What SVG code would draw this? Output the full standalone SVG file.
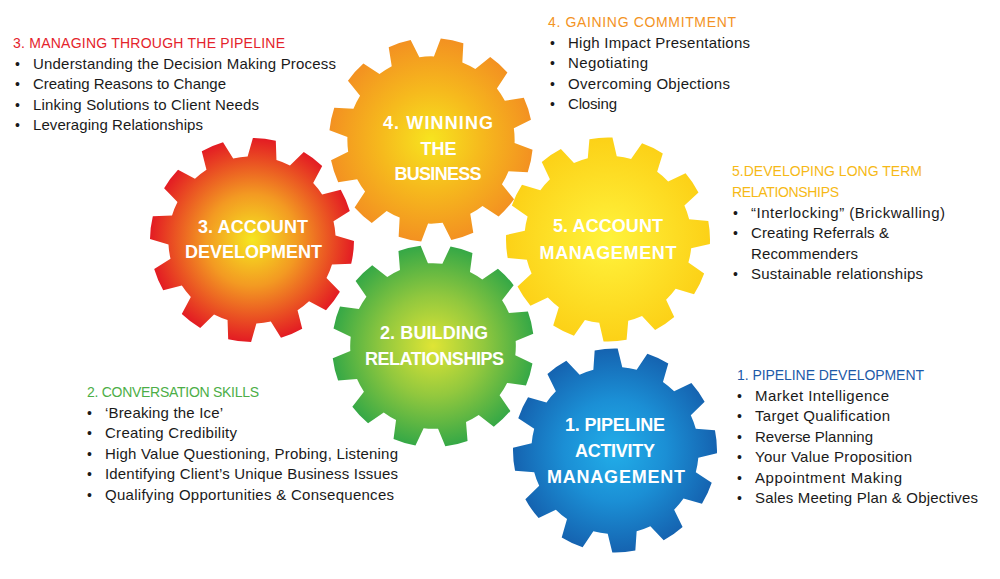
<svg xmlns="http://www.w3.org/2000/svg" xmlns:xlink="http://www.w3.org/1999/xlink" width="1000" height="579" viewBox="0 0 1000 579">
<defs>
<style>
.gt{font-family:"Liberation Sans",Arial,sans-serif;font-weight:bold;font-size:18px;fill:#ffffff;text-anchor:middle}
.li{font-family:"Liberation Sans",Arial,sans-serif;font-size:15px;fill:#1a1a1a}
.bu{font-family:"Liberation Sans",Arial,sans-serif;font-size:14px;fill:#1a1a1a;text-anchor:middle}
.h{font-family:"Liberation Sans",Arial,sans-serif;font-size:14px}
.red{fill:#e4232b}.org{fill:#f39323}.yel{fill:#f6b916}.blu{fill:#1d5aa8}.grn{fill:#4cae47}
</style>
<path id="gear" d="M-14.24,-80.75 L-11.32,-99.36 A100,100 0 0 1 11.32,-99.36 L14.24,-80.75 A82,82 0 0 1 28.05,-77.05 L39.88,-91.71 A100,100 0 0 1 59.48,-80.39 L52.71,-62.82 A82,82 0 0 1 62.82,-52.71 L80.39,-59.48 A100,100 0 0 1 91.71,-39.88 L77.05,-28.05 A82,82 0 0 1 80.75,-14.24 L99.36,-11.32 A100,100 0 0 1 99.36,11.32 L80.75,14.24 A82,82 0 0 1 77.05,28.05 L91.71,39.88 A100,100 0 0 1 80.39,59.48 L62.82,52.71 A82,82 0 0 1 52.71,62.82 L59.48,80.39 A100,100 0 0 1 39.88,91.71 L28.05,77.05 A82,82 0 0 1 14.24,80.75 L11.32,99.36 A100,100 0 0 1 -11.32,99.36 L-14.24,80.75 A82,82 0 0 1 -28.05,77.05 L-39.88,91.71 A100,100 0 0 1 -59.48,80.39 L-52.71,62.82 A82,82 0 0 1 -62.82,52.71 L-80.39,59.48 A100,100 0 0 1 -91.71,39.88 L-77.05,28.05 A82,82 0 0 1 -80.75,14.24 L-99.36,11.32 A100,100 0 0 1 -99.36,-11.32 L-80.75,-14.24 A82,82 0 0 1 -77.05,-28.05 L-91.71,-39.88 A100,100 0 0 1 -80.39,-59.48 L-62.82,-52.71 A82,82 0 0 1 -52.71,-62.82 L-59.48,-80.39 A100,100 0 0 1 -39.88,-91.71 L-28.05,-77.05 A82,82 0 0 1 -14.24,-80.75 Z"/>
<radialGradient id="gRed" cx="0.5" cy="0.5" r="0.5">
<stop offset="0" stop-color="#f6e620"/><stop offset="0.45" stop-color="#f39a22"/><stop offset="1" stop-color="#e31b23"/>
</radialGradient>
<radialGradient id="gOrg" cx="0.5" cy="0.5" r="0.5">
<stop offset="0" stop-color="#f7e41f"/><stop offset="0.5" stop-color="#f6b91d"/><stop offset="1" stop-color="#f39121"/>
</radialGradient>
<radialGradient id="gGrn" cx="0.5" cy="0.5" r="0.5">
<stop offset="0" stop-color="#dfe535"/><stop offset="0.5" stop-color="#92c83e"/><stop offset="1" stop-color="#35a846"/>
</radialGradient>
<radialGradient id="gYel" cx="0.5" cy="0.5" r="0.5">
<stop offset="0" stop-color="#fff33c"/><stop offset="1" stop-color="#fcd117"/>
</radialGradient>
<radialGradient id="gBlu" cx="0.5" cy="0.5" r="0.5">
<stop offset="0" stop-color="#22aee9"/><stop offset="0.5" stop-color="#1b8fd5"/><stop offset="1" stop-color="#1563b0"/>
</radialGradient>
</defs>
<rect width="1000" height="579" fill="#ffffff"/>
<g id="connectors"/>

<g id="gear3">
<use xlink:href="#gear" href="#gear" fill="url(#gRed)" transform="translate(252,240) rotate(7) scale(1.02)"/>
<text class="gt" x="253" y="233" textLength="110">3. ACCOUNT</text>
<text class="gt" x="253.5" y="258" textLength="137">DEVELOPMENT</text>
</g>

<g id="gear4">
<use xlink:href="#gear" href="#gear" fill="url(#gOrg)" transform="translate(431,140) rotate(12) scale(1.02)"/>
<text class="gt" x="438" y="128.5" textLength="110">4. WINNING</text>
<text class="gt" x="438.5" y="154.5">THE</text>
<text class="gt" x="438" y="180" textLength="87">BUSINESS</text>
</g>

<g id="gear5">
<use xlink:href="#gear" href="#gear" fill="url(#gYel)" transform="translate(608,239.5) rotate(-4) scale(1.02)"/>
<text class="gt" x="608" y="232" textLength="110">5. ACCOUNT</text>
<text class="gt" x="608" y="258.5" textLength="137">MANAGEMENT</text>
</g>

<g id="gear2">
<use xlink:href="#gear" href="#gear" fill="url(#gGrn)" transform="translate(433,346) rotate(16.5) scale(1.01)"/>
<text class="gt" x="434" y="339" textLength="108">2. BUILDING</text>
<text class="gt" x="434.5" y="365" textLength="139">RELATIONSHIPS</text>
</g>

<g id="gear1">
<use xlink:href="#gear" href="#gear" fill="url(#gBlu)" transform="translate(615,450.5) rotate(-5) scale(1.02)"/>
<text class="gt" x="615" y="431" textLength="100">1. PIPELINE</text>
<text class="gt" x="615" y="457" textLength="80">ACTIVITY</text>
<text class="gt" x="616" y="483" textLength="138">MANAGEMENT</text>
</g>

<g id="list3">
<text class="h red" x="13" y="48" textLength="272">3. MANAGING THROUGH THE PIPELINE</text>
<text class="bu" x="17.5" y="68.5">•</text><text class="li" x="33" y="68.5" textLength="303">Understanding the Decision Making Process</text>
<text class="bu" x="17.5" y="89">•</text><text class="li" x="33" y="89" textLength="193">Creating Reasons to Change</text>
<text class="bu" x="17.5" y="109.5">•</text><text class="li" x="33" y="109.5" textLength="226">Linking Solutions to Client Needs</text>
<text class="bu" x="17.5" y="130">•</text><text class="li" x="33" y="130" textLength="170">Leveraging Relationships</text>
</g>

<g id="list4">
<text class="h org" x="548" y="26.5" textLength="188">4. GAINING COMMITMENT</text>
<text class="bu" x="552.5" y="47.5">•</text><text class="li" x="568" y="47.5" textLength="182">High Impact Presentations</text>
<text class="bu" x="552.5" y="68">•</text><text class="li" x="568" y="68" textLength="80">Negotiating</text>
<text class="bu" x="552.5" y="88.5">•</text><text class="li" x="568" y="88.5" textLength="162">Overcoming Objections</text>
<text class="bu" x="552.5" y="109">•</text><text class="li" x="568" y="109" textLength="49">Closing</text>
</g>

<g id="list5">
<text class="h yel" x="732" y="176" textLength="190">5.DEVELOPING LONG TERM</text>
<text class="h yel" x="732" y="196.5" textLength="107">RELATIONSHIPS</text>
<text class="bu" x="735.5" y="217.5">•</text><text class="li" x="751" y="217.5" textLength="194">“Interlocking” (Brickwalling)</text>
<text class="bu" x="735.5" y="238">•</text><text class="li" x="751" y="238" textLength="138">Creating Referrals &amp;</text>
<text class="li" x="751" y="258.5" textLength="107">Recommenders</text>
<text class="bu" x="735.5" y="279">•</text><text class="li" x="751" y="279" textLength="172">Sustainable relationships</text>
</g>

<g id="list1">
<text class="h blu" x="737" y="380" textLength="187">1. PIPELINE DEVELOPMENT</text>
<text class="bu" x="739.5" y="400.5">•</text><text class="li" x="755" y="400.5" textLength="134">Market Intelligence</text>
<text class="bu" x="739.5" y="421">•</text><text class="li" x="755" y="421" textLength="135">Target Qualification</text>
<text class="bu" x="739.5" y="441.5">•</text><text class="li" x="755" y="441.5" textLength="118">Reverse Planning</text>
<text class="bu" x="739.5" y="462">•</text><text class="li" x="755" y="462" textLength="157">Your Value Proposition</text>
<text class="bu" x="739.5" y="482.5">•</text><text class="li" x="755" y="482.5" textLength="147">Appointment Making</text>
<text class="bu" x="739.5" y="503">•</text><text class="li" x="755" y="503" textLength="223">Sales Meeting Plan &amp; Objectives</text>
</g>

<g id="list2">
<text class="h grn" x="87" y="397" textLength="172">2. CONVERSATION SKILLS</text>
<text class="bu" x="89.5" y="417.5">•</text><text class="li" x="105" y="417.5" textLength="118">‘Breaking the Ice’</text>
<text class="bu" x="89.5" y="438">•</text><text class="li" x="105" y="438" textLength="132">Creating Credibility</text>
<text class="bu" x="89.5" y="458.5">•</text><text class="li" x="105" y="458.5" textLength="293">High Value Questioning, Probing, Listening</text>
<text class="bu" x="89.5" y="479">•</text><text class="li" x="105" y="479" textLength="293">Identifying Client’s Unique Business Issues</text>
<text class="bu" x="89.5" y="499.5">•</text><text class="li" x="105" y="499.5" textLength="289">Qualifying Opportunities &amp; Consequences</text>
</g>
</svg>
